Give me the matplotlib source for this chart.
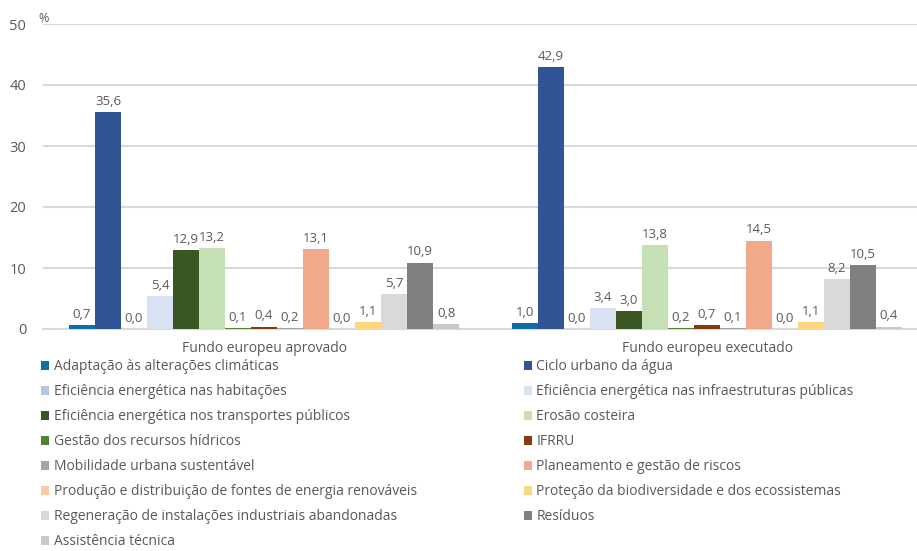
import matplotlib
matplotlib.use("Agg")
import matplotlib.pyplot as plt
import numpy as np

plt.rcParams['font.family'] = ['Open Sans', 'DejaVu Sans']

groups = ["Fundo europeu aprovado", "Fundo europeu executado"]
categories = [
    "Adaptação às alterações climáticas",
    "Ciclo urbano da água",
    "Eficiência energética nas habitações",
    "Eficiência energética nas infraestruturas públicas",
    "Eficiência energética nos transportes públicos",
    "Erosão costeira",
    "Gestão dos recursos hídricos",
    "IFRRU",
    "Mobilidade urbana sustentável",
    "Planeamento e gestão de riscos",
    "Produção e distribuição de fontes de energia renováveis",
    "Proteção da biodiversidade e dos ecossistemas",
    "Regeneração de instalações industriais abandonadas",
    "Resíduos",
    "Assistência técnica",
]
aprovado = [0.7, 35.6, 0.0, 5.4, 12.9, 13.2, 0.1, 0.4, 0.2, 13.1, 0.0, 1.1, 5.7, 10.9, 0.8]
executado = [1.0, 42.9, 0.0, 3.4, 3.0, 13.8, 0.2, 0.7, 0.1, 14.5, 0.0, 1.1, 8.2, 10.5, 0.4]
colors = ["#0E6EAD", "#2F5597", "#B4C7E7", "#DAE3F3", "#3A5623", "#C5E0B4",
          "#548235", "#843C0C", "#A5A5A5", "#F2A98A", "#F8CBAD", "#FFD580",
          "#D9D9D9", "#808080", "#C9C9C9"]
yticks = [0, 10, 20, 30, 40, 50]

fig = plt.figure(figsize=(9.17, 5.51), dpi=100)
ax = fig.add_axes([43/917, 1-329/551, 874/917, 305/551])

n = len(categories)
w = 0.0587
xc = np.arange(len(groups))
handles = []
txtcol = "#595959"
for i in range(n):
    vals = [aprovado[i], executado[i]]
    xs = xc + (i - (n-1)/2) * w
    b = ax.bar(xs, vals, width=w, color=colors[i], label=categories[i], zorder=3)
    handles.append(b)
    for x, v in zip(xs, vals):
        ax.annotate(f"{v:.1f}".replace(".", ","), (x, v), xytext=(0, 3),
                    textcoords="offset points", ha="center", va="bottom",
                    fontsize=9.5, color=txtcol)

ax.set_xlim(-0.499, 1.474)
ax.set_ylim(0, 50)
ax.set_yticks(yticks)
ax.set_yticklabels([str(t) for t in yticks], fontsize=10.5, color=txtcol)
ax.set_xticks(xc)
ax.set_xticklabels(groups, fontsize=10, color=txtcol)
ax.tick_params(axis='both', length=0)
ax.tick_params(axis='y', pad=12)
ax.tick_params(axis='x', pad=9)
ax.grid(axis='y', color="#D9D9D9", linewidth=1.5, zorder=0)
for s in ['top', 'right', 'left']:
    ax.spines[s].set_visible(False)
ax.spines['bottom'].set_color("#D9D9D9")
ax.spines['bottom'].set_linewidth(1.5)
fig.text(38/917, 1-18/551, "%", fontsize=9, color=txtcol, ha="left", va="center")

left_idx = list(range(0, n, 2))
right_idx = list(range(1, n, 2))
common = dict(frameon=False, fontsize=10, handlelength=0.6, handleheight=0.6,
              handletextpad=0.3, labelspacing=0.72, borderaxespad=0, borderpad=0,
              labelcolor=txtcol, loc="upper left")
leg1 = fig.legend([handles[i] for i in left_idx], [categories[i] for i in left_idx],
                  bbox_to_anchor=(41/917, 1-359/551), **common)
leg2 = fig.legend([handles[i] for i in right_idx], [categories[i] for i in right_idx],
                  bbox_to_anchor=(524/917, 1-359/551), **common)

fig.savefig("out.png", dpi=100)
